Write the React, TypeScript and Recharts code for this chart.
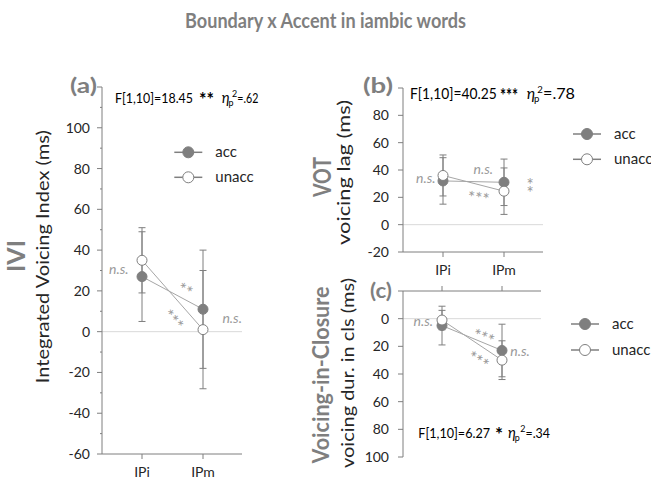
import React from "react";
import { LineChart, Line, XAxis, YAxis, ErrorBar, ReferenceLine } from "recharts";

const categories = ["IPi", "IPm"];
const seriesNames = ["acc", "unacc"];

// (a) integrated voicing index (ms)
const iviAcc = [27, 11];
const iviAccSd = [22, 29];
const iviUnacc = [35, 1];
const iviUnaccSd = [16, 29];
const iviTicks = [-60, -50, -40, -30, -20, -10, 0, 10, 20, 30, 40, 50, 60, 70, 80, 90, 100, 110, 120];
const iviTickLabels = [-60, -40, -20, 0, 20, 40, 60, 80, 100];

// (b) VOT, voicing lag (ms)
const votAcc = [32, 31];
const votAccSd = [17, 17];
const votUnacc = [36, 24.5];
const votUnaccSd = [15, 17];
const votTicks = [-20, 0, 20, 40, 60, 80, 100];
const votTickLabels = [-20, 0, 20, 40, 60, 80];

// (c) voicing-in-closure duration (ms), axis runs downwards
const vicAcc = [5, 23];
const vicAccSd = [14, 19];
const vicUnacc = [1, 30];
const vicUnaccSd = [7, 14];
const vicTicks = [-20, 0, 20, 40, 60, 80, 100];
const vicTickLabels = [0, 20, 40, 60, 80, 100];

const FONT = "Lato, 'Open Sans', sans-serif";
const GRAY = "#7f7f7f";
const LINE = "#a6a6a6";
const TEXT = "#262626";
const NOTE = "#9a9a9a";
const ZERO = "#d9d9d9";

const markerFill: Record<string, string> = { acc: GRAY, unacc: "#ffffff" };

function buildRows(acc: number[], accSd: number[], unacc: number[], unaccSd: number[]) {
  return categories.map((cat, i) => ({
    cat,
    acc: acc[i],
    accSd: accSd[i],
    unacc: unacc[i],
    unaccSd: unaccSd[i],
  }));
}

const makeYTick = (labels: number[], gap: number) => (props: any) => {
  const { x, y, payload } = props;
  const v = payload.value;
  const major = v % 20 === 0;
  return (
    <g>
      <line x1={x - (major ? 5 : 2)} x2={x} y1={y} y2={y} stroke={GRAY} />
      {labels.includes(v) && (
        <text x={x - gap} y={y} dy="0.36em" textAnchor="end" fontSize={14} fill={TEXT} fontFamily={FONT}>
          {v}
        </text>
      )}
    </g>
  );
};

const makeXTick = (top: boolean, showLabel: boolean) => (props: any) => {
  const { x, y, payload } = props;
  const d = top ? -1 : 1;
  return (
    <g>
      <line x1={x} x2={x} y1={y} y2={y + d * 5} stroke={GRAY} />
      {showLabel && (
        <text x={x} y={y + 18} dy="0.36em" textAnchor="middle" fontSize={14} fill={TEXT} fontFamily={FONT}>
          {payload.value}
        </text>
      )}
    </g>
  );
};

type PanelProps = {
  rows: any[];
  yTicks: number[];
  yLabels: number[];
  labelGap: number;
  reversed?: boolean;
  xTop?: boolean;
  xLabels?: boolean;
  left: number;
  top: number;
  width: number;
  height: number;
  margin: { top: number; right: number; bottom: number; left: number };
  xHeight: number;
  pad: { left: number; right: number };
};

function Panel(p: PanelProps) {
  return (
    <div style={{ position: "absolute", left: p.left, top: p.top }}>
      <LineChart width={p.width} height={p.height} data={p.rows} margin={p.margin}>
        <ReferenceLine y={0} stroke={ZERO} />
        <XAxis
          dataKey="cat"
          orientation={p.xTop ? "top" : "bottom"}
          height={p.xHeight}
          padding={p.pad}
          axisLine={{ stroke: GRAY }}
          tickLine={false}
          tickSize={0}
          tickMargin={0}
          interval={0}
          tick={makeXTick(!!p.xTop, !!p.xLabels)}
        />
        <YAxis
          type="number"
          domain={[p.yTicks[0], p.yTicks[p.yTicks.length - 1]]}
          ticks={p.yTicks}
          reversed={p.reversed}
          width={40}
          interval={0}
          axisLine={{ stroke: GRAY }}
          tickLine={false}
          tickSize={0}
          tickMargin={0}
          tick={makeYTick(p.yLabels, p.labelGap)}
        />
        {seriesNames.map((name) => (
          <Line
            key={name}
            dataKey={name}
            stroke={LINE}
            strokeWidth={1}
            dot={{ r: 5, fill: markerFill[name], stroke: GRAY, strokeWidth: 1 }}
            activeDot={false}
            isAnimationActive={false}
          >
            <ErrorBar dataKey={name + "Sd"} width={3.5} stroke={GRAY} strokeWidth={1} direction="y" />
          </Line>
        ))}
      </LineChart>
    </div>
  );
}

function Legend({ x, y, gap }: { x: number; y: number; gap: number }) {
  return (
    <g>
      {seriesNames.map((name, i) => (
        <g key={name}>
          <line x1={x - 14} x2={x + 14} y1={y + i * gap} y2={y + i * gap} stroke={GRAY} strokeWidth={1.5} />
          <circle cx={x} cy={y + i * gap} r={5.5} fill={markerFill[name]} stroke={GRAY} strokeWidth={1} />
          <text x={x + 27} y={y + i * gap} dy="0.32em" fontSize={15} fill={TEXT}>
            {name}
          </text>
        </g>
      ))}
    </g>
  );
}

type FProps = {
  y: number;
  size: number;
  f: [string, number, number];
  stars: [string, number, number];
  eta: number;
  rest: [string, number, number];
};

// F statistic with stars and partial eta squared
function FStat({ y, size, f, stars, eta, rest }: FProps) {
  const small = size * 0.66;
  return (
    <g fill="#000">
      <text x={f[1]} y={y} fontSize={size} textLength={f[2]} lengthAdjust="spacingAndGlyphs">
        {f[0]}
      </text>
      <text x={stars[1]} y={y + 3} fontSize={19} fontWeight={700} textLength={stars[2]} lengthAdjust="spacingAndGlyphs">
        {stars[0]}
      </text>
      <text x={eta} y={y} fontSize={size + 1} fontStyle="italic">
        η
      </text>
      <text x={eta + size * 0.5} y={y + 3} fontSize={small}>
        p
      </text>
      <text x={rest[1] - small * 0.6} y={y - 6} fontSize={small}>
        2
      </text>
      <text x={rest[1]} y={y} fontSize={size} textLength={rest[2]} lengthAdjust="spacingAndGlyphs">
        {rest[0]}
      </text>
    </g>
  );
}

type Note = { t: string; x: number; y: number; r?: number };

const notes: Note[] = [
  { t: "n.s.", x: 118.8, y: 270 },
  { t: "**", x: 186.7, y: 287, r: 28 },
  { t: "***", x: 175.8, y: 317.5, r: 48 },
  { t: "n.s.", x: 232.2, y: 319.3 },
  { t: "n.s.", x: 425.8, y: 179.3 },
  { t: "n.s.", x: 483.3, y: 170 },
  { t: "***", x: 479, y: 194.3, r: 8 },
  { t: "*", x: 530, y: 180.7 },
  { t: "*", x: 530, y: 188.3 },
  { t: "n.s.", x: 423.3, y: 322.7 },
  { t: "***", x: 485, y: 334, r: 22 },
  { t: "n.s.", x: 520, y: 352.7 },
  { t: "***", x: 480, y: 357.5, r: 32 },
];

function VLabel({ x, y, text, size, bold, len, dy }: { x: number; y: number; text: string; size: number; bold?: boolean; len: number; dy: string }) {
  return (
    <text
      transform={`translate(${x},${y}) rotate(-90)`}
      textAnchor="middle"
      dy={dy}
      fontSize={size}
      fontWeight={bold ? 700 : 400}
      fill={bold ? GRAY : TEXT}
      textLength={len}
      lengthAdjust="spacingAndGlyphs"
    >
      {text}
    </text>
  );
}

export default function App() {
  return (
    <div style={{ position: "absolute", left: 0, top: 0, width: 651, height: 479, background: "#fff", fontFamily: FONT }}>
      <Panel
        rows={buildRows(iviAcc, iviAccSd, iviUnacc, iviUnaccSd)}
        yTicks={iviTicks}
        yLabels={iviTickLabels}
        labelGap={12}
        xLabels
        left={0}
        top={0}
        width={260}
        height={479}
        margin={{ top: 87, right: 18, bottom: 0, left: 62 }}
        xHeight={25}
        pad={{ left: 40, right: 39 }}
      />
      <Panel
        rows={buildRows(votAcc, votAccSd, votUnacc, votUnaccSd)}
        yTicks={votTicks}
        yLabels={votTickLabels}
        labelGap={14}
        xLabels
        left={300}
        top={0}
        width={260}
        height={284}
        margin={{ top: 88, right: 17, bottom: 0, left: 63 }}
        xHeight={32}
        pad={{ left: 40, right: 39 }}
      />
      <Panel
        rows={buildRows(vicAcc, vicAccSd, vicUnacc, vicUnaccSd)}
        yTicks={vicTicks}
        yLabels={vicTickLabels}
        labelGap={14}
        reversed
        xTop
        left={300}
        top={284}
        width={260}
        height={195}
        margin={{ top: 0, right: 19, bottom: 22, left: 63 }}
        xHeight={7}
        pad={{ left: 39, right: 39 }}
      />
      <svg
        width={651}
        height={479}
        style={{ position: "absolute", left: 0, top: 0, pointerEvents: "none" }}
        fontFamily={FONT}
      >
        <text x={325.5} y={28} textAnchor="middle" fontSize={20} fontWeight={700} fill={GRAY} textLength={281} lengthAdjust="spacingAndGlyphs">
          Boundary x Accent in iambic words
        </text>

        <text x={70} y={93} fontSize={21} fontWeight={700} fill={GRAY} textLength={27} lengthAdjust="spacingAndGlyphs">(a)</text>
        <text x={363} y={93} fontSize={21} fontWeight={700} fill={GRAY} textLength={30} lengthAdjust="spacingAndGlyphs">(b)</text>
        <text x={370} y={298} fontSize={21} fontWeight={700} fill={GRAY} textLength={22} lengthAdjust="spacingAndGlyphs">(c)</text>

        <VLabel x={16.5} y={256} text="IVI" size={24} bold len={32} dy="0.36em" />
        <VLabel x={44} y={256.7} text="Integrated Voicing Index (ms)" size={17} len={253} dy="0.27em" />
        <VLabel x={322} y={177} text="VOT" size={24} bold len={40} dy="0.36em" />
        <VLabel x={345} y={172.5} text="voicing lag (ms)" size={17} len={145} dy="0.27em" />
        <VLabel x={323} y={375} text="Voicing-in-Closure" size={22} bold len={177} dy="0.27em" />
        <VLabel x={349} y={373} text="voicing dur. in cls (ms)" size={17} len={190} dy="0.27em" />

        <FStat y={102.7} size={13.5} f={["F[1,10]=18.45", 115, 78]} stars={["**", 199, 15]} eta={221.7} rest={["=.62", 237.3, 21]} />
        <FStat y={99.3} size={14.5} f={["F[1,10]=40.25", 410, 86.7]} stars={["***", 500, 18]} eta={526.7} rest={["=.78", 543, 32]} />
        <FStat y={438.3} size={13.5} f={["F[1,10]=6.27", 418.3, 71.7]} stars={["*", 495, 8]} eta={508} rest={["=.34", 525.5, 24.5]} />

        <Legend x={188.3} y={152.3} gap={25} />
        <Legend x={587} y={134} gap={25.3} />
        <Legend x={585} y={324} gap={26} />

        {notes.map((n, i) => {
          const star = n.t.startsWith("*");
          return (
            <text
              key={i}
              transform={`translate(${n.x},${n.y}) rotate(${n.r ?? 0})`}
              textAnchor="middle"
              dy={star ? "0.6em" : "0.25em"}
              fontSize={star ? 17 : 14}
              fontStyle={star ? "normal" : "italic"}
              fill={NOTE}
            >
              {n.t}
            </text>
          );
        })}
      </svg>
    </div>
  );
}
